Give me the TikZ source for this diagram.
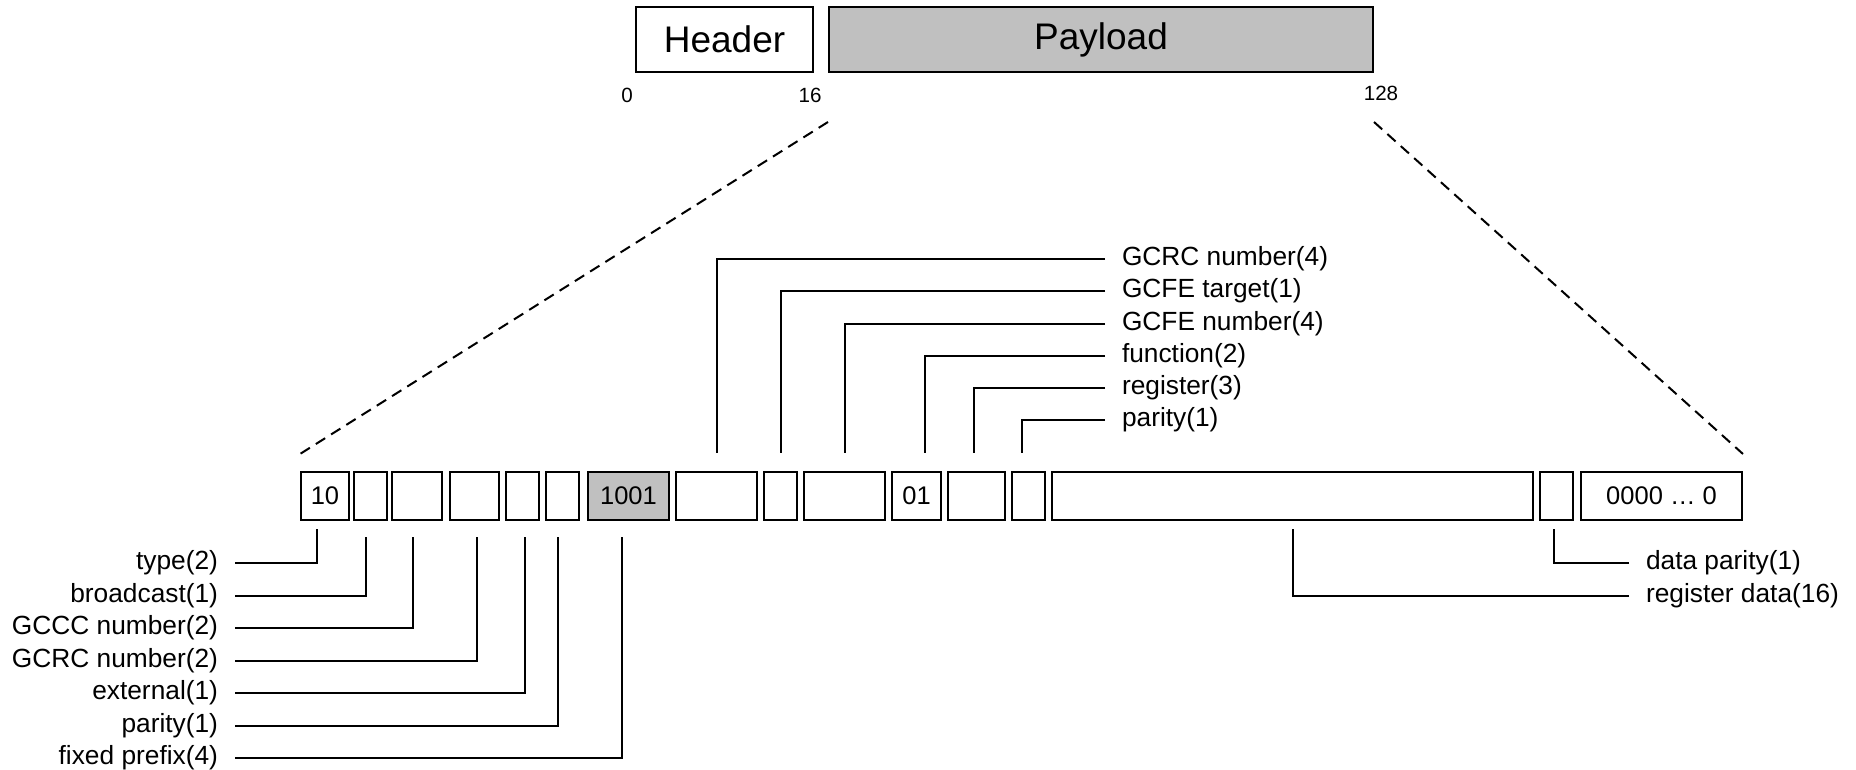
\documentclass[tikz,border=0pt]{standalone}
\usepackage{fontspec}
\setmainfont{Liberation Sans}
\usetikzlibrary{calc}
\definecolor{fieldgray}{HTML}{C0C0C0}

\begin{document}
\begin{tikzpicture}[x=1pt, y=-1pt, line width=2pt,
  part/.style={draw, minimum height=65pt, inner sep=0pt, font=\fontsize{37}{44}\selectfont},
  field/.style={draw, minimum height=48pt, inner sep=0pt, font=\fontsize{25.5}{30}\selectfont},
  lbl/.style={inner xsep=16pt, inner ysep=0pt, font=\fontsize{26.3}{31}\selectfont},
  bitnum/.style={inner sep=0pt, font=\fontsize{20.6}{24}\selectfont},
  zoomline/.style={dash pattern=on 11pt off 7pt}]
\useasboundingbox (0,0) rectangle (1856,770);
% Frame
\node[part, minimum width=177pt] (hdr) at (724.5,39.5) {Header};
\node[part, fill=fieldgray, minimum width=544pt] (pay) at (1101,39.5) {Payload};
\node[bitnum] (n0) at (627,95) {0};
\node[bitnum] (n16) at (810,95) {16};
\node[bitnum] (n128) at (1381,93) {128};
% Payload fields
\foreach \n/\l/\r/\f/\t in {1/301/349/white/10, 2/354/387/white/{}, 3/392/442/white/{}, 4/450/499/white/{},
  5/506/539/white/{}, 6/546/579/white/{}, 7/588/669/fieldgray/1001, 8/676/757/white/{},
  9/764/797/white/{}, 10/804/885/white/{}, 11/892/941/white/01, 12/948/1005/white/{},
  13/1012/1045/white/{}, 14/1052/1533/white/{}, 15/1540/1573/white/{}, 16/1581/1742/white/0000 … 0}
  \node[field, fill=\f, minimum width={(\r-\l)*1pt}] (b\n) at ({(\l+\r)/2},496) {\t};
% Zoom lines
\draw[zoomline] ([yshift=-49pt]pay.south west) -- ([yshift=17pt]b1.north west);
\draw[zoomline] ([yshift=-49pt]pay.south east) -- ([yshift=17pt]b16.north east);
% Lower labels
\foreach \t/\b/\dx/\gap/\y in {type(2)/b1/-8/8/563, broadcast(1)/b2/-5/16/596, GCCC number(2)/b3/-4/16/628,
  GCRC number(2)/b4/2/16/661, external(1)/b5/2/16/693, parity(1)/b6/-5/16/726, fixed prefix(4)/b7/-7/16/758}
{
  \node[lbl, anchor=east] (low\y) at (235,\y) {\t};
  \draw (low\y.east) -| ([xshift=\dx, yshift=-\gap]\b.south);
}
\node[lbl, anchor=west] (dpar) at (1629,563) {data parity(1)};
\node[lbl, anchor=west] (rdat) at (1629,596) {register data(16)};
\draw (dpar.west) -| ([xshift=-3, yshift=-8]b15.south);
\draw (rdat.west) -| ([yshift=-8]b14.south);
% Upper labels
\foreach \t/\b/\dx/\y in {GCRC number(4)/b8/0/259, GCFE target(1)/b9/0/291, GCFE number(4)/b10/0/324,
  function(2)/b11/8/356, register(3)/b12/-3/388, parity(1)/b13/-7/420}
{
  \node[lbl, anchor=west] (up\y) at (1105,\y) {\t};
  \draw (up\y.west) -| ([xshift=\dx, yshift=18]\b.north);
}
\end{tikzpicture}
\end{document}
